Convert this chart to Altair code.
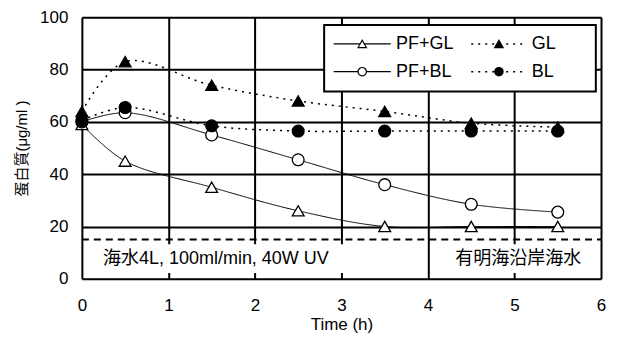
import altair as alt
import pandas as pd

# ---- data ----
time = [0, 0.5, 1.5, 2.5, 3.5, 4.5, 5.5]
pf_gl = [59, 45, 35, 26, 20, 20, 20]
pf_bl = [60, 63.5, 55, 45.5, 36, 28.5, 25.5]
gl = [64, 83, 74, 68, 64, 59.5, 58]
bl = [60.5, 65.5, 58.5, 56.5, 56.5, 56.5, 56.5]
series = ["PF+GL", "PF+BL", "GL", "BL"]
values = [pf_gl, pf_bl, gl, bl]
baseline_level = 15
note_left = "海水4L, 100ml/min, 40W  UV"
note_right = "有明海沿岸海水"

FONT = "Liberation Sans, Arial, Noto Sans CJK JP"

rows = []
for s, vals in zip(series, values):
    for t, v in zip(time, vals):
        rows.append({"series": s, "t": t, "v": v})
df = pd.DataFrame(rows)

xs = alt.Scale(domain=[0, 6], nice=False)
ys = alt.Scale(domain=[0, 100], nice=False)

X = alt.X("t:Q", scale=xs, axis=alt.Axis(values=[0, 1, 2, 3, 4, 5, 6], title="Time (h)", format="d",
          grid=True, gridColor="black", gridWidth=2, domain=False, ticks=False, labelFlush=False,
          labelFontSize=17, labelPadding=19, titleFontSize=17, titleFontWeight="normal",
          titlePadding=3, labelFont=FONT, titleFont=FONT, labelColor="black", titleColor="black"))
Y = alt.Y("v:Q", scale=ys, axis=alt.Axis(values=[0, 20, 40, 60, 80, 100], title="蛋白質(μg/ml )", format="d",
          grid=True, gridColor="black", gridWidth=2, domain=False, ticks=False, labelFlush=False,
          labelFontSize=17, labelPadding=14, titleFontSize=15, titleFontWeight="normal",
          titlePadding=10, labelFont=FONT, titleFont=FONT, labelColor="black", titleColor="black"))

styles = {
    "PF+GL": dict(dash=[1, 0], shape="triangle-up", filled=False),
    "PF+BL": dict(dash=[1, 0], shape="circle", filled=False),
    "GL": dict(dash=[2, 5], shape="triangle-up", filled=True),
    "BL": dict(dash=[2, 5], shape="circle", filled=True),
}

layers = []
# white boxes behind the notes (cover grid lines)
box_df = pd.DataFrame({"x": [0.2, 4.25], "x2": [3.62, 5.85], "y": [2.2, 2.2], "y2": [13.2, 13.2]})
layers.append(alt.Chart(box_df).mark_rect(color="white").encode(
    x=alt.X("x:Q", scale=xs), x2="x2:Q", y=alt.Y("y:Q", scale=ys), y2="y2:Q"))
# dashed reference line
ref_df = pd.DataFrame({"x": [0], "x2": [6], "y": [baseline_level]})
layers.append(alt.Chart(ref_df).mark_rule(color="black", strokeWidth=2, strokeDash=[7, 5]).encode(
    x=alt.X("x:Q", scale=xs), x2="x2:Q", y=alt.Y("y:Q", scale=ys)))

for s in series:
    st = styles[s]
    sub = df[df.series == s]
    layers.append(alt.Chart(sub).mark_line(color="black", strokeWidth=1.5 if st["filled"] else 1,
                                           strokeDash=st["dash"], interpolate="catmull-rom").encode(
        x=X, y=Y))
for s in series:
    st = styles[s]
    sub = df[df.series == s]
    layers.append(alt.Chart(sub).mark_point(shape=st["shape"], filled=True, size=140,
                                            fill="black" if st["filled"] else "white",
                                            stroke="black", strokeWidth=1.3, opacity=1).encode(
        x=X, y=Y))

# notes
note_df = pd.DataFrame({"x": [0.245], "y": [7.6], "label": [note_left]})
layers.append(alt.Chart(note_df).mark_text(align="left", baseline="middle", fontSize=18, font=FONT,
                                           color="black").encode(
    x=alt.X("x:Q", scale=xs), y=alt.Y("y:Q", scale=ys), text="label:N"))
note_df2 = pd.DataFrame({"x": [5.77], "y": [7.6], "label": [note_right]})
layers.append(alt.Chart(note_df2).mark_text(align="right", baseline="middle", fontSize=18, font=FONT,
                                            color="black").encode(
    x=alt.X("x:Q", scale=xs), y=alt.Y("y:Q", scale=ys), text="label:N"))

# legend (layout in data units)
lg_box = pd.DataFrame({"x": [2.8], "x2": [5.94], "y": [71.6], "y2": [97]})
layers.append(alt.Chart(lg_box).mark_rect(fill="white", stroke="black", strokeWidth=2).encode(
    x=alt.X("x:Q", scale=xs), x2="x2:Q", y=alt.Y("y:Q", scale=ys), y2="y2:Q"))
leg_pos = {"PF+GL": (0, 89.8), "PF+BL": (0, 79.2), "GL": (1, 89.8), "BL": (1, 79.2)}
col_x = [(2.91, 3.57, 3.24, 3.63), (4.5, 5.14, 4.82, 5.2)]
for s in series:
    st = styles[s]
    c, yy = leg_pos[s]
    x1, x2, xm, xt = col_x[c]
    ldf = pd.DataFrame({"x": [x1], "x2": [x2], "y": [yy]})
    layers.append(alt.Chart(ldf).mark_rule(color="black", strokeWidth=1.5 if st["filled"] else 1.2,
                                           strokeDash=st["dash"]).encode(
        x=alt.X("x:Q", scale=xs), x2="x2:Q", y=alt.Y("y:Q", scale=ys)))
    mdf = pd.DataFrame({"x": [xm], "y": [yy]})
    layers.append(alt.Chart(mdf).mark_point(shape=st["shape"], filled=True, size=70,
                                            fill="black" if st["filled"] else "white",
                                            stroke="black", strokeWidth=1.2, opacity=1).encode(
        x=alt.X("x:Q", scale=xs), y=alt.Y("y:Q", scale=ys)))
    tdf = pd.DataFrame({"x": [xt], "y": [yy], "label": [s]})
    layers.append(alt.Chart(tdf).mark_text(align="left", baseline="middle", fontSize=18, font=FONT,
                                           color="black").encode(
        x=alt.X("x:Q", scale=xs), y=alt.Y("y:Q", scale=ys), text="label:N"))

chart = alt.layer(*layers).properties(
    width=520, height=262,
    autosize=alt.AutoSizeParams(type="none"),
    padding={"left": 74, "top": 9, "right": 10, "bottom": 58},
).configure_view(stroke="black", strokeWidth=2).configure(background="white")

chart.save("out.html", embed_options={"renderer": "svg", "actions": False})
